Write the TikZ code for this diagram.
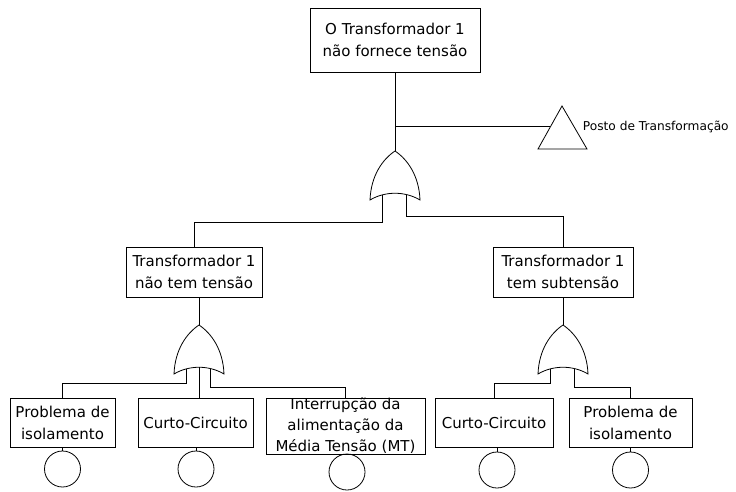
\documentclass[tikz,border=0pt]{standalone}
\usepackage{fontspec}
\setmainfont{DejaVu Sans}
\usetikzlibrary{calc}

\tikzset{
	evento/.style={draw, align=center, inner sep=0pt, font=\fontsize{15}{22}\selectfont},
	basico/.style={draw, circle, minimum size=36pt, inner sep=0pt},
	porta ou/.pic={
		\draw[fill=white] (-25,49) .. controls (-24,24) and (-12,8) .. (0,0)
			.. controls (12,8) and (24,24) .. (25,49)
			.. controls (10,40) and (-10,40) .. (-25,49) -- cycle;
		\coordinate (-saida) at (0,0);
		\coordinate (-e1) at (-13,44);
		\coordinate (-e2) at (0,42.3);
		\coordinate (-e3) at (11,43.5);
	}
}

\begin{document}
\begin{tikzpicture}[x=1pt, y=-1pt, line width=0.8pt]
					\useasboundingbox (0,0) rectangle (736,491);
					% eventos
					\path (395,40) node[evento, minimum width=170pt, minimum height=64pt] (v0) {O Transformador 1\\não fornece tensão};
					\path (194,272) node[evento, minimum width=136pt, minimum height=50pt] (v1) {Transformador 1\\não tem tensão};
					\path (563,272) node[evento, minimum width=140pt, minimum height=50pt] (v2) {Transformador 1\\tem subtensão};
					\path (62.5,422.5) node[evento, minimum width=105pt, minimum height=49pt] (v3) {Problema de\\isolamento};
					\path (195.5,422.5) node[evento, minimum width=115pt, minimum height=49pt] (v4) {Curto-Circuito};
					\path (345.5,426) node[evento, minimum width=159pt, minimum height=56pt] (v5) {};
					\path (v5.center) node[align=center, font=\fontsize{15}{21}\selectfont] (v5t) {Interrupção da\\alimentação da\\Média Tensão (MT)};
					\path (494,422.5) node[evento, minimum width=118pt, minimum height=49pt] (v6) {Curto-Circuito};
					\path (630.5,422.5) node[evento, minimum width=123pt, minimum height=49pt] (v7) {Problema de\\isolamento};
					% eventos basicos
					\path (62.5,469) node[basico] (b3) {};
					\path (196,469) node[basico] (b4) {};
					\path (347,472) node[basico] (b5) {};
					\path (497,470) node[basico] (b6) {};
					\path (630.5,470) node[basico] (b7) {};
					% portas
					\pic (g0) at (395,151) {porta ou};
					\pic (g1) at (199,325) {porta ou};
					\pic (g2) at (563,325) {porta ou};
					% transferencia
					\coordinate (t0) at (562,106);
					\coordinate (t1) at (538,149);
					\coordinate (t2) at (587,149);
					\coordinate (tl) at ($(t0)!0.48!(t1)$);
					\draw (t0) -- (t1) -- (t2) -- cycle;
					\path (tl) ++(32,0) node[anchor=west, inner sep=0pt, font=\fontsize{12.2}{14}\selectfont] (v8) {Posto de Transformação};
					% ligacoes
					\draw (v0.south) -- (g0-saida);
					\draw (v0.south |- tl) -- (tl);
					\draw (g0-e1) |- ([yshift=24pt]v1.north) -- (v1.north);
					\draw (g0-e3) |- ([yshift=30pt]v2.north) -- (v2.north);
					\draw (g1-saida) -- (g1-saida |- v1.south);
					\draw (g2-saida) -- (v2.south);
					\draw (g1-e1) |- ([yshift=14pt]v3.north) -- (v3.north);
					\draw (g1-e2) -- (g1-e2 |- v4.north);
					\draw (g1-e3) |- ([yshift=10pt]v5.north) -- (v5.north);
					\draw (g2-e1) |- ([yshift=14pt]v6.north) -- (v6.north);
					\draw (g2-e3) |- ([yshift=10pt]v7.north) -- (v7.north);
					\draw (v3) -- (b3);
					\draw (v4.south -| b4) -- (b4);
					\draw (v6.south -| b6) -- (b6);
					\draw (v7) -- (b7);
\end{tikzpicture}
\end{document}
